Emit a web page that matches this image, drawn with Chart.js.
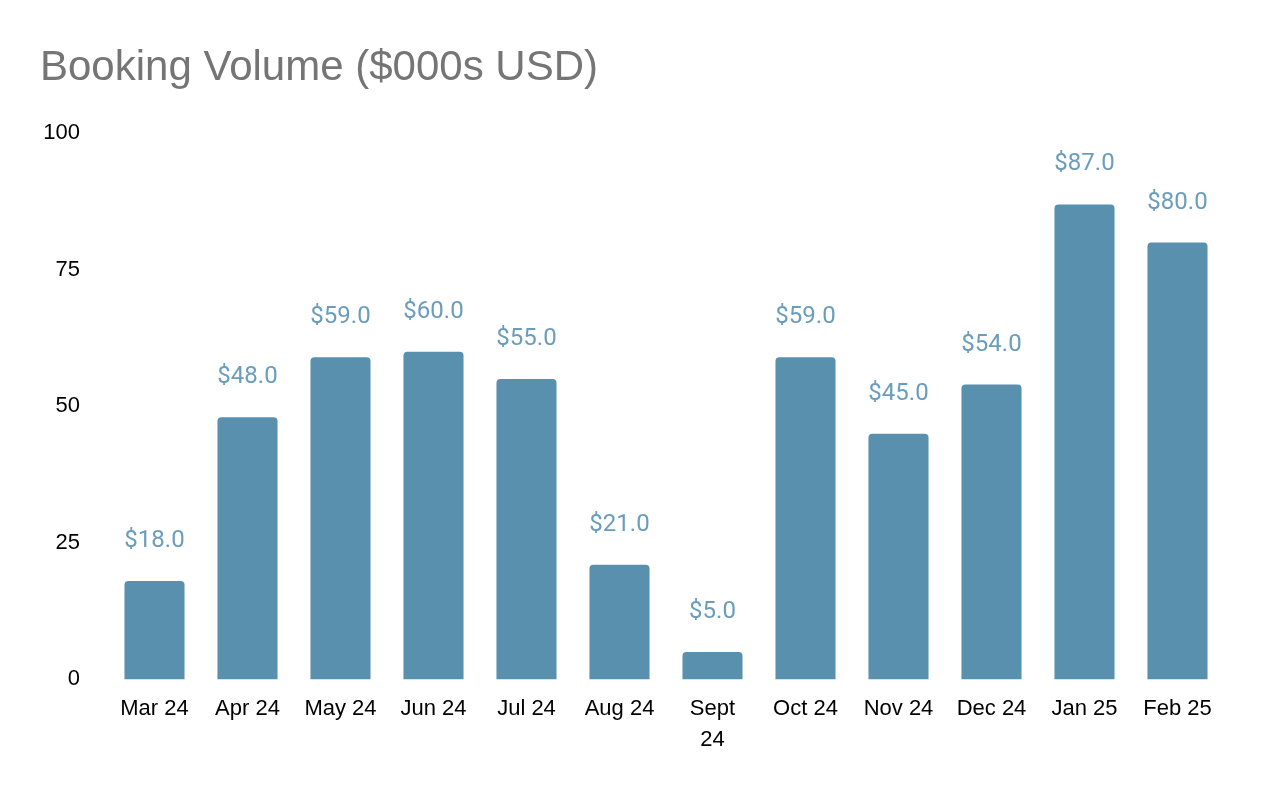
<!DOCTYPE html>
<html>
<head>
<meta charset="utf-8">
<script src="https://cdn.jsdelivr.net/npm/chart.js@4.4.1/dist/chart.umd.min.js"></script>
<style>
	html, body { margin: 0; padding: 0; background: #ffffff; }
	#wrap { width: 1280px; height: 790px; }
</style>
</head>
<body>
<div id="wrap"><canvas id="chart_booking"></canvas></div>
<script>
	// Datos del grafico
	let meses = ['Mar 24', 'Apr 24', 'May 24', 'Jun 24', 'Jul 24', 'Aug 24', ['Sept', '24'], 'Oct 24', 'Nov 24', 'Dec 24', 'Jan 25', 'Feb 25'];
	let volumen = [18, 48, 59, 60, 55, 21, 5, 59, 45, 54, 87, 80];
	let ticks_y = [0, 25, 50, 75, 100];

	// Etiquetas encima de cada barra
	let etiquetas = {
		id: 'etiquetas',
		afterDatasetsDraw(chart) {
			let ctx = chart.ctx;
			let meta = chart.getDatasetMeta(0);
			ctx.save();
			ctx.font = '24px Roboto, "Liberation Sans", sans-serif';
			ctx.fillStyle = '#6a9dbc';
			ctx.textAlign = 'center';
			ctx.textBaseline = 'middle';
			meta.data.forEach((bar, i) => {
				ctx.fillText('$' + volumen[i].toFixed(1), bar.x, bar.y - 40);
			});
			ctx.restore();
		}
	};

	let ctx = document.getElementById('chart_booking');
	let data = {
		labels: meses,
		datasets: [
			{
				data: volumen,
				backgroundColor: '#5890ae',
				borderRadius: { topLeft: 4, topRight: 4 },
				borderSkipped: 'start',
				categoryPercentage: 1,
				barPercentage: 0.646
			}
		]
	};

	let options = {
		responsive: true,
		maintainAspectRatio: false,
		animation: false,
		layout: {
			padding: { left: 40, right: 56, top: 43, bottom: 21 }
		},
		plugins: {
			legend: { display: false },
			tooltip: { enabled: false },
			title: {
				display: true,
				text: 'Booking Volume ($000s USD)',
				align: 'start',
				color: '#757575',
				font: { family: '"Liberation Sans", Arial, sans-serif', size: 42, weight: 'normal', lineHeight: 1.2 },
				padding: { top: 0, bottom: 40 }
			}
		},
		scales: {
			x: {
				grid: { display: false, drawTicks: false },
				border: { display: false },
				ticks: {
					color: '#000000',
					padding: 14,
					maxRotation: 0,
					autoSkip: false,
					font: { family: '"Liberation Sans", Arial, sans-serif', size: 22, lineHeight: 1.4 }
				}
			},
			y: {
				min: 0,
				max: 100,
				grid: { display: false, drawTicks: false },
				border: { display: false },
				afterBuildTicks: scale => {
					scale.ticks = ticks_y.map(v => ({ value: v }));
				},
				afterFit: scale => {
					scale.width = 68;
				},
				ticks: {
					color: '#000000',
					padding: 28,
					font: { family: '"Liberation Sans", Arial, sans-serif', size: 22 }
				}
			}
		}
	};

	let graficoBooking = new Chart(ctx, {
		type: 'bar',
		data: data,
		options: options,
		plugins: [etiquetas]
	});
</script>
</body>
</html>
